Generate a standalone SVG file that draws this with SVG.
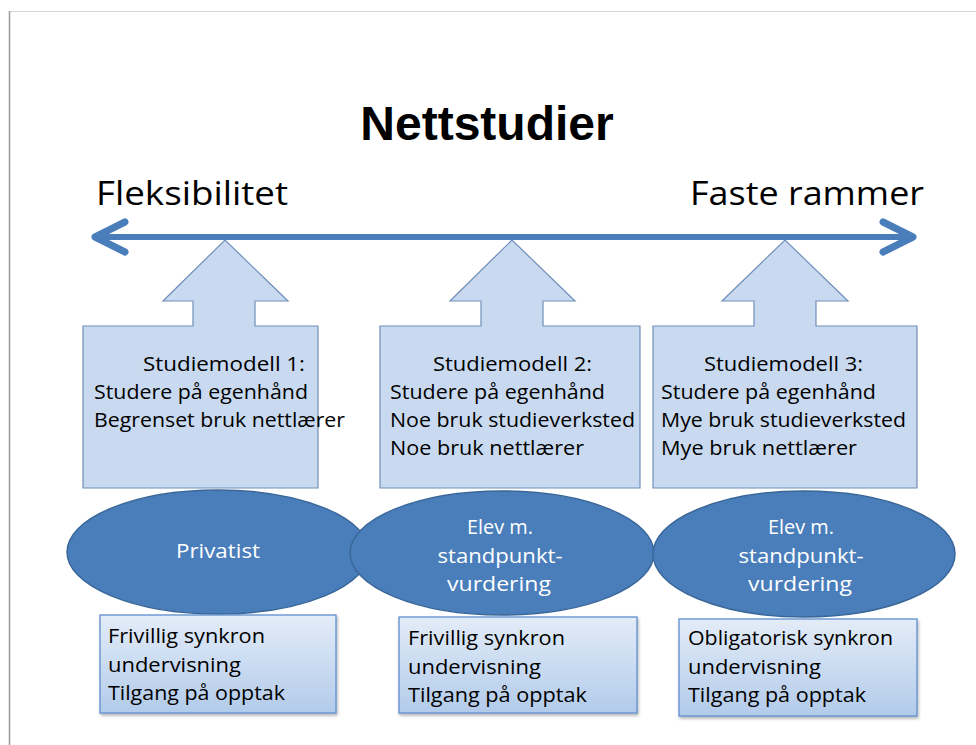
<svg xmlns="http://www.w3.org/2000/svg" width="976" height="745" viewBox="0 0 976 745">
<defs>
<style>
.t{font-family:"Open Sans","Liberation Sans",sans-serif;fill:#000}
.w{font-family:"Open Sans","Liberation Sans",sans-serif;fill:#fff;font-size:20px;text-anchor:middle}
.bx{font-size:20px}
.bt{font-size:20px}
.callout{fill:#c9daf0;stroke:#6f8fb8;stroke-width:1.2}
.ell{fill:#4a7ebb;stroke:#3a6799;stroke-width:1.5}
.note{fill:url(#g);stroke:#5f8fcf;stroke-width:1.3;filter:url(#sh)}
</style>
<linearGradient id="g" x1="0" y1="0" x2="0" y2="1">
<stop offset="0" stop-color="#e3ecf8"/>
<stop offset="1" stop-color="#b2cbea"/>
</linearGradient>
<filter id="sh" x="-10%" y="-10%" width="130%" height="130%">
<feDropShadow dx="1" dy="2" stdDeviation="1.5" flood-color="#000" flood-opacity="0.3"/>
</filter>
</defs>
<rect x="0" y="0" width="976" height="745" fill="#fff"/>
<line x1="9" y1="11.5" x2="976" y2="11.5" stroke="#d6d6d6" stroke-width="1"/>
<line x1="9.5" y1="11" x2="9.5" y2="745" stroke="#9a9a9a" stroke-width="1.5"/>

<g id="title">
<text x="487" y="140" text-anchor="middle" style="font-family:'Liberation Sans',sans-serif;font-weight:bold;font-size:48px;fill:#000">Nettstudier</text>
</g>
<g id="labels">
<text class="t" x="96" y="205" style="font-size:33px" textLength="192" lengthAdjust="spacingAndGlyphs">Fleksibilitet</text>
<text class="t" x="690" y="205" style="font-size:33px" textLength="234" lengthAdjust="spacingAndGlyphs">Faste rammer</text>
</g>

<g id="connectors">
<line x1="96" y1="237" x2="912" y2="237" stroke="#4a7ebb" stroke-width="6"/>
<polyline points="125,222 95,237 125,252" fill="none" stroke="#4a7ebb" stroke-width="7" stroke-linecap="round" stroke-linejoin="round"/>
<polyline points="883,222 913,237 883,252" fill="none" stroke="#4a7ebb" stroke-width="7" stroke-linecap="round" stroke-linejoin="round"/>
</g>

<g id="model1">
<path class="callout" d="M83,326 H193 V301 H163 L225,240 L288,301 H255 V326 H318 V488 H83 Z"/>
<text class="t bx" x="143" y="371" textLength="162" lengthAdjust="spacingAndGlyphs">Studiemodell 1:</text>
<text class="t bx" x="94" y="399" textLength="214" lengthAdjust="spacingAndGlyphs">Studere på egenhånd</text>
<text class="t bx" x="94" y="427" textLength="251" lengthAdjust="spacingAndGlyphs">Begrenset bruk nettlærer</text>
</g>
<g id="model2">
<path class="callout" d="M380,326 H481 V301 H450 L512,240 L575,301 H543 V326 H640 V488 H380 Z"/>
<text class="t bx" x="433" y="371" textLength="159" lengthAdjust="spacingAndGlyphs">Studiemodell 2:</text>
<text class="t bx" x="390" y="399" textLength="215" lengthAdjust="spacingAndGlyphs">Studere på egenhånd</text>
<text class="t bx" x="390" y="427" textLength="245" lengthAdjust="spacingAndGlyphs">Noe bruk studieverksted</text>
<text class="t bx" x="390" y="455" textLength="194" lengthAdjust="spacingAndGlyphs">Noe bruk nettlærer</text>
</g>
<g id="model3">
<path class="callout" d="M653,326 H754 V301 H722 L785,240 L848,301 H816 V326 H917 V488 H653 Z"/>
<text class="t bx" x="704" y="371" textLength="159" lengthAdjust="spacingAndGlyphs">Studiemodell 3:</text>
<text class="t bx" x="661" y="399" textLength="215" lengthAdjust="spacingAndGlyphs">Studere på egenhånd</text>
<text class="t bx" x="661" y="427" textLength="245" lengthAdjust="spacingAndGlyphs">Mye bruk studieverksted</text>
<text class="t bx" x="661" y="455" textLength="196" lengthAdjust="spacingAndGlyphs">Mye bruk nettlærer</text>
</g>

<g id="group1">
<ellipse class="ell" cx="218" cy="552" rx="151" ry="62"/>
<text class="w" x="218" y="558" textLength="84" lengthAdjust="spacingAndGlyphs">Privatist</text>
</g>
<g id="group2">
<ellipse class="ell" cx="502" cy="553" rx="152" ry="62"/>
<text class="w" x="500" y="534" textLength="66" lengthAdjust="spacingAndGlyphs">Elev m.</text>
<text class="w" x="500" y="563" textLength="125" lengthAdjust="spacingAndGlyphs">standpunkt-</text>
<text class="w" x="499" y="591" textLength="104" lengthAdjust="spacingAndGlyphs">vurdering</text>
</g>
<g id="group3">
<ellipse class="ell" cx="804" cy="554" rx="151" ry="63"/>
<text class="w" x="801" y="534" textLength="66" lengthAdjust="spacingAndGlyphs">Elev m.</text>
<text class="w" x="801" y="563" textLength="125" lengthAdjust="spacingAndGlyphs">standpunkt-</text>
<text class="w" x="800" y="591" textLength="104" lengthAdjust="spacingAndGlyphs">vurdering</text>
</g>

<g id="note1">
<rect class="note" x="100" y="615" width="236" height="98"/>
<text class="t bt" x="108" y="643" textLength="157" lengthAdjust="spacingAndGlyphs">Frivillig synkron</text>
<text class="t bt" x="108" y="672" textLength="133" lengthAdjust="spacingAndGlyphs">undervisning</text>
<text class="t bt" x="108" y="700" textLength="177" lengthAdjust="spacingAndGlyphs">Tilgang på opptak</text>
</g>
<g id="note2">
<rect class="note" x="399" y="617" width="238" height="96"/>
<text class="t bt" x="408" y="645" textLength="157" lengthAdjust="spacingAndGlyphs">Frivillig synkron</text>
<text class="t bt" x="408" y="674" textLength="133" lengthAdjust="spacingAndGlyphs">undervisning</text>
<text class="t bt" x="408" y="702" textLength="179" lengthAdjust="spacingAndGlyphs">Tilgang på opptak</text>
</g>
<g id="note3">
<rect class="note" x="679" y="619" width="238" height="97"/>
<text class="t bt" x="688" y="645" textLength="205" lengthAdjust="spacingAndGlyphs">Obligatorisk synkron</text>
<text class="t bt" x="688" y="674" textLength="133" lengthAdjust="spacingAndGlyphs">undervisning</text>
<text class="t bt" x="688" y="702" textLength="178" lengthAdjust="spacingAndGlyphs">Tilgang på opptak</text>
</g>
</svg>
